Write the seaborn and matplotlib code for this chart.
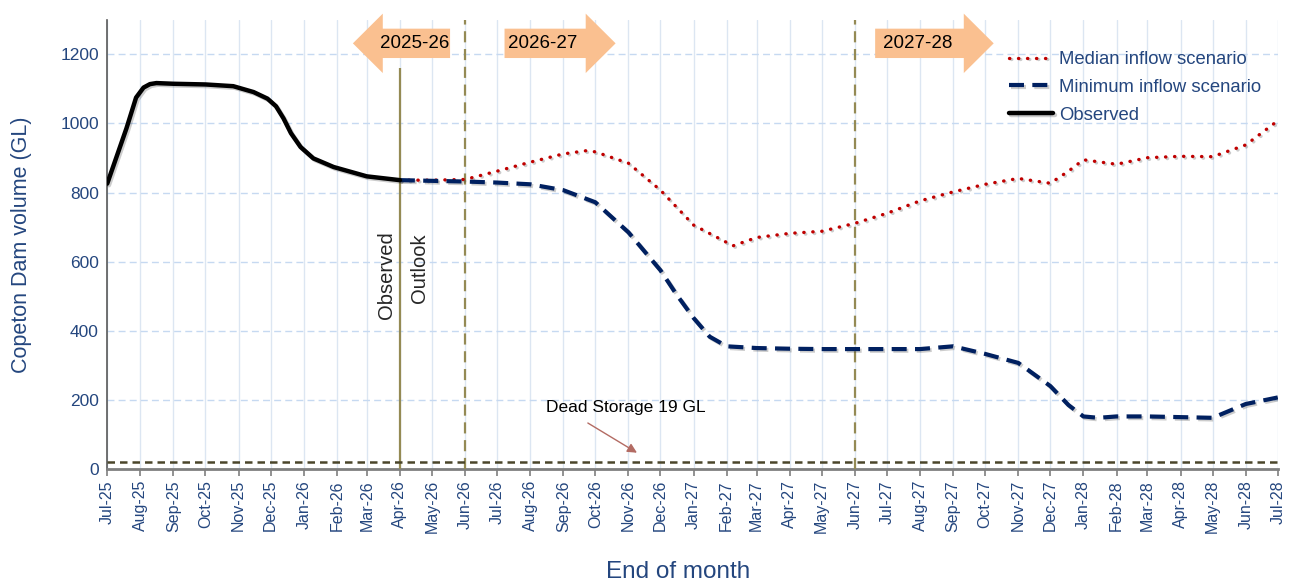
import pandas as pd
import seaborn as sns
import matplotlib
matplotlib.use('Agg')
import matplotlib.pyplot as plt
import matplotlib.dates as mdates
import matplotlib.patheffects as pe
from matplotlib.patches import FancyArrow

# observed storage (GL)
obs_dates = ['2025-07-01', '2025-07-19', '2025-07-28', '2025-08-04', '2025-08-10', '2025-08-16',
             '2025-09-01', '2025-10-01', '2025-10-27', '2025-11-15', '2025-11-28', '2025-12-06',
             '2025-12-13', '2025-12-20', '2025-12-29', '2026-01-10', '2026-01-29', '2026-03-01',
             '2026-04-01']
obs_vals = [826, 986, 1075, 1104, 1114, 1117, 1115, 1113, 1108, 1091, 1072, 1050,
            1015, 972, 932, 899, 874, 847, 836]

# median inflow scenario (GL)
med_dates = ['2026-04-01', '2026-05-01', '2026-06-01', '2026-07-01', '2026-08-01', '2026-09-01',
             '2026-09-22', '2026-10-01', '2026-11-01', '2026-12-01', '2027-01-01', '2027-02-07',
             '2027-03-01', '2027-04-01', '2027-05-01', '2027-06-01', '2027-07-01', '2027-08-01',
             '2027-09-01', '2027-10-01', '2027-11-01', '2027-12-01', '2027-12-18', '2028-01-01',
             '2028-02-01', '2028-03-01', '2028-04-01', '2028-05-01', '2028-06-01', '2028-07-01']
med_vals = [836, 836, 838, 862, 888, 912, 921, 918, 885, 807, 706, 646,
            670, 682, 688, 711, 740, 776, 802, 824, 841, 827, 862, 895,
            882, 901, 905, 904, 938, 1008]

# minimum inflow scenario (GL)
min_dates = ['2026-04-01', '2026-05-01', '2026-06-01', '2026-07-01', '2026-08-01', '2026-09-01',
             '2026-10-01', '2026-11-01', '2026-12-01', '2026-12-16', '2027-01-01', '2027-01-16',
             '2027-02-01', '2027-03-01', '2027-04-01', '2027-05-01', '2027-06-01', '2027-07-01',
             '2027-08-01', '2027-09-01', '2027-10-01', '2027-11-01', '2027-12-01', '2027-12-18',
             '2028-01-01', '2028-01-15', '2028-02-01', '2028-03-01', '2028-04-01', '2028-05-01',
             '2028-06-01', '2028-07-01']
min_vals = [836, 834, 832, 829, 824, 807, 772, 685, 575, 505, 437, 383,
            355, 350, 348, 347, 347, 347, 347, 355, 333, 307, 240, 185,
            152, 148, 152, 152, 150, 148, 188, 207]

dead_storage = 19
year_labels = ['2025-26', '2026-27', '2027-28']
fy_lines = ['2026-06-01', '2027-06-01']
outlook_start = '2026-04-01'

# arrow shapes for the water-year banners: (tail, tip, text centre)
banners = [('2026-05-18', '2026-02-16', '2026-04-15'),
           ('2026-07-08', '2026-10-20', '2026-08-13'),
           ('2027-06-20', '2027-10-09', '2027-07-30')]

navy = '#24467E'

sns.set_theme(style='white')
plt.rcParams['font.family'] = ['Liberation Sans', 'DejaVu Sans']

fig, ax = plt.subplots(figsize=(12.92, 5.84), dpi=100)
fig.subplots_adjust(left=0.083, right=0.989, bottom=0.197, top=0.966)

shadow = [pe.SimpleLineShadow(offset=(1.2, -1.2), alpha=0.22), pe.Normal()]

sns.lineplot(x=pd.to_datetime(med_dates), y=med_vals, ax=ax, color='#C00000', lw=2.4,
             ls=(0, (0.1, 2.6)), dash_capstyle='round', label='Median inflow scenario',
             path_effects=shadow, zorder=5)
sns.lineplot(x=pd.to_datetime(min_dates), y=min_vals, ax=ax, color='#002060', lw=3,
             ls=(0, (3.6, 2.0)), label='Minimum inflow scenario', path_effects=shadow, zorder=5)
sns.lineplot(x=pd.to_datetime(obs_dates), y=obs_vals, ax=ax, color='black', lw=3.2,
             label='Observed', path_effects=shadow, zorder=6, solid_joinstyle='round')

# dead storage line and note
ax.axhline(dead_storage, color='#4A452A', lw=1.8, ls=(0, (3, 2)), zorder=4)
ax.text(pd.Timestamp('2026-10-30'), 178, 'Dead Storage 19 GL', ha='center', va='center',
        fontsize=12.5, color='black')
ax.annotate('', xy=(pd.Timestamp('2026-11-09'), 47), xytext=(pd.Timestamp('2026-09-24'), 133),
            arrowprops=dict(arrowstyle='-|>', color='#B36B63', lw=1, shrinkA=0, shrinkB=0,
                            mutation_scale=14))

# year boundaries
for d in fy_lines:
    ax.axvline(pd.Timestamp(d), color='#948A54', lw=1.6, ls=(0, (5, 3)), zorder=3)
ax.vlines(pd.Timestamp(outlook_start), 0, 1160, color='#948A54', lw=1.6, zorder=3)
ax.annotate('Observed', xy=(pd.Timestamp(outlook_start), 561), xytext=(-3, 0),
            textcoords='offset points', rotation=90, ha='right', va='center', fontsize=14.5)
ax.annotate('Outlook', xy=(pd.Timestamp(outlook_start), 581), xytext=(7, 0),
            textcoords='offset points', rotation=90, ha='left', va='center', fontsize=14.5)

for lab, (tail, tip, mid) in zip(year_labels, banners):
    x0 = mdates.date2num(pd.Timestamp(tail))
    x1 = mdates.date2num(pd.Timestamp(tip))
    ax.add_patch(FancyArrow(x0, 1232, x1 - x0, 0, width=85, head_width=172, head_length=28,
                            length_includes_head=True, fc='#FAC090', ec='none', zorder=7,
                            clip_on=False))
    ax.text(pd.Timestamp(mid), 1232, lab, ha='center', va='center', fontsize=13.5,
            color='black', zorder=8)

ax.set_xlim(pd.Timestamp('2025-07-01'), pd.Timestamp('2028-07-01'))
ax.set_ylim(0, 1300)
ax.set_yticks(range(0, 1201, 200))
ax.xaxis.set_major_locator(mdates.MonthLocator())
ax.xaxis.set_major_formatter(mdates.DateFormatter('%b-%y'))
ax.tick_params(axis='x', rotation=90, labelsize=11.5, labelcolor=navy, length=5, width=1.2,
               color='#7F7F7F', bottom=True, pad=3)
ax.tick_params(axis='y', labelsize=12.5, labelcolor=navy, length=0, pad=6)

ax.grid(axis='x', color='#DCE6F2', lw=1, ls='-')
ax.grid(axis='y', color='#C6D9F1', lw=1, ls=(0, (5, 3)))
ax.set_axisbelow(True)

for s in ['top', 'right']:
    ax.spines[s].set_visible(False)
ax.spines['left'].set_color('#595959')
ax.spines['left'].set_linewidth(1.2)
ax.spines['bottom'].set_color('#7F7F7F')
ax.spines['bottom'].set_linewidth(2)

ax.set_ylabel('Copeton Dam volume (GL)', fontsize=15.5, color=navy, labelpad=20)
ax.set_xlabel('End of month', fontsize=17.5, color=navy, labelpad=20, x=0.488)

leg = ax.legend(loc='upper right', bbox_to_anchor=(0.995, 0.955), frameon=False, fontsize=13.3,
                handlelength=2.4, handletextpad=0.3, labelspacing=0.58, borderaxespad=0.2)
for t in leg.get_texts():
    t.set_color(navy)

fig.savefig('out.png', dpi=100)
